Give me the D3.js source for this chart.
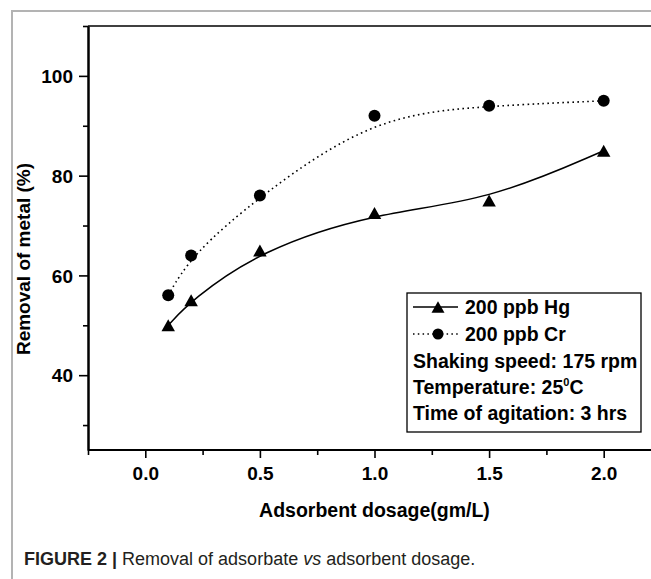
<!DOCTYPE html>
<html>
<head>
<meta charset="utf-8">
<script src="https://cdn.jsdelivr.net/npm/d3@7"></script>
<style>
  html, body { margin: 0; padding: 0; background: #fff; }
  svg { display: block; }
  text { font-family: "Liberation Sans", Arial, sans-serif; }
</style>
</head>
<body>
<div id="chart"></div>
<script>
// ---- data ----
const dosage = [0.1, 0.2, 0.5, 1.0, 1.5, 2.0];
const hgRemoval = [50, 55, 65, 72.5, 75, 85];
const crRemoval = [56, 64, 76, 92, 94, 95];
const xMajorTicks = [0.0, 0.5, 1.0, 1.5, 2.0];
const xMinorTicks = [-0.25, 0.25, 0.75, 1.25, 1.75];
const yMajorTicks = [40, 60, 80, 100];
const yMinorTicks = [30, 50, 70, 90, 110];
const seriesNames = ["200 ppb Hg", "200 ppb Cr"];
const xTitle = "Adsorbent dosage(gm/L)";
const yTitle = "Removal of metal (%)";

const W = 651, H = 579;
const svg = d3.select("#chart").append("svg").attr("width", W).attr("height", H);

// outer gray frame (cropped at right/bottom)
svg.append("path")
  .attr("d", `M12,${H + 5} L12,11 L${W + 5},11`)
  .attr("fill", "none").attr("stroke", "#b3b3b3").attr("stroke-width", 2);

const x = d3.scaleLinear().domain([-0.25, 2.25]).range([88, 661]);
const y = d3.scaleLinear().domain([25, 110]).range([450, 26]);

// top frame line
svg.append("line").attr("x1", x(-0.25)).attr("x2", W + 5)
  .attr("y1", y(110)).attr("y2", y(110))
  .attr("stroke", "#000").attr("stroke-width", 1.5);

// axes
const xAxisMajor = d3.axisBottom(x).tickValues(xMajorTicks).tickSize(8).tickSizeOuter(0)
  .tickFormat(d3.format(".1f"));
const xAxisMinor = d3.axisBottom(x).tickValues(xMinorTicks).tickSize(5).tickSizeOuter(0).tickFormat("");
const gxMinor = svg.append("g").attr("transform", `translate(0,${y(25)})`).call(xAxisMinor);
const gx = svg.append("g").attr("transform", `translate(0,${y(25)})`).call(xAxisMajor);
[gx, gxMinor].forEach(g => {
  g.select(".domain").attr("stroke", "#000").attr("stroke-width", 2)
    .attr("d", `M${x(-0.25)},0H${W + 5}`);
  g.selectAll(".tick line").attr("stroke", "#000").attr("stroke-width", 1.6);
});
gx.selectAll(".tick text").attr("font-size", 19).attr("font-weight", "bold")
  .attr("fill", "#000").attr("dy", "0").attr("y", 30);

const yAxisMajor = d3.axisLeft(y).tickValues(yMajorTicks).tickSize(9).tickSizeOuter(0)
  .tickFormat(d3.format("d"));
const yAxisMinor = d3.axisLeft(y).tickValues(yMinorTicks).tickSize(5).tickSizeOuter(0).tickFormat("");
const gyMinor = svg.append("g").attr("transform", `translate(${x(-0.25)},0)`).call(yAxisMinor);
const gy = svg.append("g").attr("transform", `translate(${x(-0.25)},0)`).call(yAxisMajor);
[gy, gyMinor].forEach(g => {
  g.select(".domain").attr("stroke", "#000").attr("stroke-width", 2);
  g.selectAll(".tick line").attr("stroke", "#000").attr("stroke-width", 1.6);
});
gy.selectAll(".tick text").attr("font-size", 19).attr("font-weight", "bold")
  .attr("fill", "#000").attr("x", -15).attr("dy", "0.35em");

// axis titles
svg.append("text").attr("x", x(1.0)).attr("y", 517).attr("text-anchor", "middle")
  .attr("font-size", 19.5).attr("font-weight", "bold").text(xTitle);
svg.append("text").attr("transform", `translate(30,259) rotate(-90)`).attr("text-anchor", "middle")
  .attr("font-size", 19).attr("font-weight", "bold").text(yTitle);

// curves
const lineGen = d3.line().x(d => x(d[0])).y(d => y(d[1])).curve(d3.curveBasis);
const hgPts = dosage.map((d, i) => [d, hgRemoval[i]]);
const crPts = dosage.map((d, i) => [d, crRemoval[i]]);

svg.append("path").attr("d", lineGen(crPts)).attr("fill", "none")
  .attr("stroke", "#000").attr("stroke-width", 1.6).attr("stroke-dasharray", "1.6,3.4");
svg.append("path").attr("d", lineGen(hgPts)).attr("fill", "none")
  .attr("stroke", "#000").attr("stroke-width", 1.5);

function triPath(cx, cy, w, h) {
  return `M${cx},${cy - h / 2}L${cx + w / 2},${cy + h / 2}L${cx - w / 2},${cy + h / 2}Z`;
}

svg.append("g").selectAll("circle").data(crPts).join("circle")
  .attr("cx", d => x(d[0])).attr("cy", d => y(d[1])).attr("r", 6).attr("fill", "#000");
svg.append("g").selectAll("path").data(hgPts).join("path")
  .attr("d", d => triPath(x(d[0]), y(d[1]), 13.5, 12)).attr("fill", "#000");

// legend
const lg = svg.append("g");
lg.append("rect").attr("x", 407).attr("y", 293).attr("width", 234).attr("height", 139)
  .attr("fill", "#fff").attr("stroke", "#000").attr("stroke-width", 1.3);
lg.append("line").attr("x1", 413).attr("x2", 458).attr("y1", 307).attr("y2", 307)
  .attr("stroke", "#000").attr("stroke-width", 1.5);
lg.append("path").attr("d", triPath(438, 307, 13, 11.5)).attr("fill", "#000");
lg.append("line").attr("x1", 413).attr("x2", 458).attr("y1", 334).attr("y2", 334)
  .attr("stroke", "#000").attr("stroke-width", 1.5).attr("stroke-dasharray", "1.5,3.3");
lg.append("circle").attr("cx", 438).attr("cy", 334).attr("r", 5.5).attr("fill", "#000");
const lt = (xx, yy, t) => lg.append("text").attr("x", xx).attr("y", yy)
  .attr("font-size", 19.5).attr("font-weight", "bold").attr("fill", "#000").text(t);
lt(465, 314, seriesNames[0]);
lt(465, 341, seriesNames[1]);
lt(413, 368, "Shaking speed: 175 rpm");
const temp = lg.append("text").attr("x", 413).attr("y", 394)
  .attr("font-size", 19.5).attr("font-weight", "bold").attr("fill", "#000");
temp.append("tspan").text("Temperature: 25");
temp.append("tspan").attr("font-size", 11).attr("dy", -8).text("0");
temp.append("tspan").attr("dy", 8).text("C");
lt(413, 420, "Time of agitation: 3 hrs");

// caption
const cap = svg.append("text").attr("x", 24).attr("y", 565)
  .attr("font-size", 18).attr("fill", "#231f20")
  .style("font-family", "'Liberation Sans Narrow', 'Liberation Sans', Arial, sans-serif");
cap.append("tspan").attr("font-weight", "bold").text("FIGURE 2 | ");
cap.append("tspan").text("Removal of adsorbate ");
cap.append("tspan").attr("font-style", "italic").text("vs");
cap.append("tspan").text(" adsorbent dosage.");
</script>
</body>
</html>
